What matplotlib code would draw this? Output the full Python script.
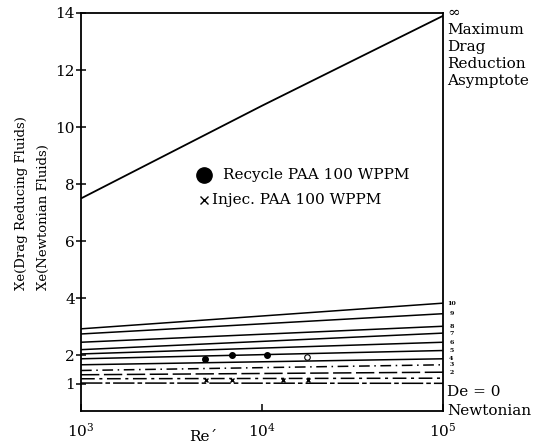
"""
Drag reduction in recycled vs injected PAA solutions.

Ratio of the effective Xe of drag reducing fluids to Newtonian fluids
against Reynolds number, with the family of constant-Deborah-number
curves (De = 0 ... 10) and the maximum drag reduction asymptote.
"""

import matplotlib.pyplot as plt

plt.rcParams['font.family'] = ['DejaVu Serif']
plt.rcParams['mathtext.fontset'] = 'dejavuserif'

# ---- data -------------------------------------------------------------
re_ends = [1e3, 1e5]

# maximum drag reduction asymptote
mdr_re = [1e3, 1e4, 1e5]
mdr_xe = [7.5, 10.75, 13.9]

# constant-De curves: (left end, right end)
de_values = [0, 1, 2, 3, 4, 5, 6, 7, 8, 9, 10]
de_left   = [1.03, 1.18, 1.32, 1.47, 1.67, 1.88, 2.05, 2.20, 2.46, 2.75, 2.93]
de_right  = [1.02, 1.20, 1.41, 1.67, 1.88, 2.17, 2.46, 2.78, 3.02, 3.46, 3.83]

# measured points
recycle_re = [4840, 6820, 10660, 17700]
recycle_xe = [1.88, 2.02, 2.02, 1.96]
injec_re   = [4900, 6830, 13060, 17950]
injec_xe   = [1.12, 1.14, 1.15, 1.12]

y_ticks = [1, 2, 4, 6, 8, 10, 12, 14]
x_ticks = [1e3, 1e4, 1e5]
x_tick_labels = ['$10^3$', '$10^4$', '$10^5$']

# ---- styles -----------------------------------------------------------
line_styles = {
    0: (0, (14, 2, 3, 2)),
    1: (0, (9, 3, 2, 3)),
    2: (0, (12, 3)),
    3: (0, (7, 3, 1, 3)),
}

W, H = 544, 448
fig = plt.figure(figsize=(W / 100, H / 100), dpi=100)
ax = fig.add_axes([81 / W, 37 / H, 362 / W, 398 / H])

ax.plot(mdr_re, mdr_xe, color='black', lw=1.3)

for de, y0, y1 in zip(de_values, de_left, de_right):
    ax.plot(re_ends, [y0, y1], color='black', lw=1.1,
            linestyle=line_styles.get(de, '-'))
    if de >= 2:
        ax.annotate(str(de), xy=(1e5, y1), xytext=(6, 0),
                    textcoords='offset points', ha='center', va='center',
                    fontsize=4.5, fontweight='bold', annotation_clip=False)

ax.plot(recycle_re[:-1], recycle_xe[:-1], 'o', color='black', ms=4)
ax.plot(recycle_re[-1:], recycle_xe[-1:], 'o', mfc='white', mec='black',
        ms=4, mew=0.8)
ax.plot(injec_re, injec_xe, 'x', color='black', ms=3.5, mew=1.0)

# key drawn inside the plot area
ax.plot([0.340], [0.593], 'o', color='black', ms=11, transform=ax.transAxes,
        clip_on=False)
ax.text(0.392, 0.593, 'Recycle PAA 100 WPPM', transform=ax.transAxes,
        fontsize=11, va='center', ha='left')
ax.plot([0.340], [0.530], 'x', color='black', ms=6, mew=1.0,
        transform=ax.transAxes, clip_on=False)
ax.text(0.362, 0.530, 'Injec. PAA 100 WPPM', transform=ax.transAxes,
        fontsize=11, va='center', ha='left')

ax.set_xscale('log')
ax.set_xlim(1e3, 1e5)
ax.set_ylim(0.05, 14)
ax.set_yticks(y_ticks)
ax.set_yticklabels([str(t) for t in y_ticks])
ax.set_xticks(x_ticks)
ax.set_xticklabels(x_tick_labels)
ax.minorticks_off()
ax.tick_params(axis='y', direction='inout', length=7, width=1.1,
               labelsize=11, pad=1)
ax.tick_params(axis='x', direction='in', length=5, width=1.1,
               labelsize=11, pad=8)
for s in ax.spines.values():
    s.set_linewidth(1.3)

# axis labels
fig.text(22 / W, 1 - 290 / H, 'Xe(Drag Reducing Fluids)', rotation=90,
         ha='center', va='bottom', fontsize=9.5)
fig.text(43 / W, 1 - 290 / H, 'Xe(Newtonian Fluids)', rotation=90,
         ha='center', va='bottom', fontsize=9.5)
fig.text(203 / W, 1 - 437 / H, 'Re´', ha='center', va='center', fontsize=11)

# right-hand annotations
right_x = 447 / W
fig.text(right_x, 1 - 13 / H, '∞', ha='left', va='center', fontsize=11)
for label, y in [('Maximum', 30), ('Drag', 47), ('Reduction', 64),
                 ('Asymptote', 81)]:
    fig.text(right_x, 1 - y / H, label, ha='left', va='center', fontsize=11)
fig.text(right_x, 1 - 392 / H, 'De = 0', ha='left', va='center', fontsize=11)
fig.text(right_x, 1 - 411 / H, 'Newtonian', ha='left', va='center',
         fontsize=11)

fig.savefig('out.png', dpi=100)
